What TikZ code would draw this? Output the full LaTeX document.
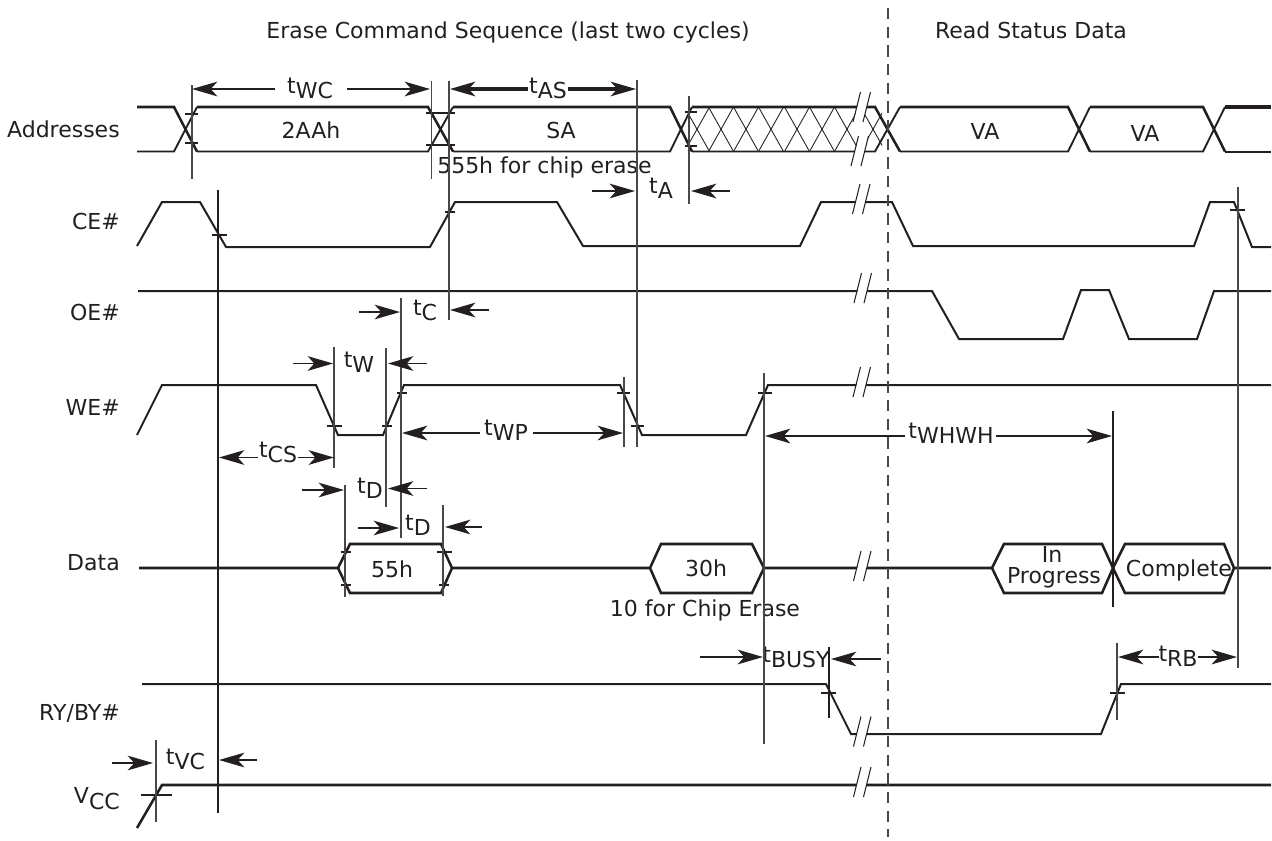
\documentclass[tikz,border=0pt]{standalone}
\usepackage{fontspec}
\setmainfont{DejaVu Sans}
\usepackage{tikz}
\usetikzlibrary{arrows.meta}
\definecolor{ink}{HTML}{231F20}
\definecolor{rule}{HTML}{4A4748}
\newcommand{\tsub}[1]{t\raisebox{-3.9pt}{#1}}
\tikzset{
    sig/.style={draw=ink,line width=1.5pt,line join=miter},
    sigtop/.style={draw=ink,line width=1.9pt,line join=miter},
    sigbot/.style={draw=ink,line width=1.4pt,line join=miter},
    guide/.style={draw=rule,line width=0.8pt},
    guideb/.style={draw=ink,line width=1.2pt},
    tick/.style={draw=ink,line width=0.8pt},
    hatch/.style={draw=ink,line width=0.65pt},
    dim/.style={draw=ink,line width=1pt,-{Stealth[length=19pt,width=11pt,inset=5pt]}},
    txt/.style={inner sep=0pt,anchor=base,text=ink,font=\fontsize{16.5}{18}\selectfont},
    txtr/.style={txt,anchor=base east},
}
\begin{document}
\begin{tikzpicture}[x=0.75pt,y=-0.75pt]
   \useasboundingbox (0,0) rectangle (1272,840);

   % signal names
   \node[txtr] (addr)  at (120,137) {Addresses};
   \node[txtr] (ce)    at (120,229) {CE\#};
   \node[txtr] (oe)    at (120,320) {OE\#};
   \node[txtr] (we)    at (120,415) {WE\#};
   \node[txtr] (data)  at (120,570) {Data};
   \node[txtr] (rybsy) at (120,720) {RY/BY\#};
   \node[txtr] (vcc)   at (120,803) {V\raisebox{-5pt}{CC}};

   \node[txt] (erase)  at (508,38)  {Erase Command Sequence (last two cycles)};
   \node[txt] (status) at (1031,38) {Read Status Data};

   % values
   \node[txt] (v2aa)   at (311,138)  {2AAh};
   \node[txt] (vsa)    at (561,138)  {SA};
   \node[txt] (vva)    at (985,139)  {VA};
   \node[txt] (vvb)    at (1145,141) {VA};
   \node[txt,anchor=base west] (n555) at (437,173) {555h for chip erase};
   \node[txt] (v55)    at (392,577)  {55h};
   \node[txt] (v30)    at (706,576)  {30h};
   \node[txt] (n10)    at (705,616)  {10 for Chip Erase};
   \node[txt] (vin)    at (1052,562) {In};
   \node[txt] (vprog)  at (1054,583) {Progress};
   \node[txt] (vcompl) at (1179,576) {Complete};

   % timing names
   \node[txt] (twc)   at (310,93)   {\tsub{WC}};
   \node[txt] (tas)   at (548,93)   {\tsub{AS}};
   \node[txt] (ta)    at (661,193)  {\tsub{A}};
   \node[txt] (tc)    at (425,315)  {\tsub{C}};
   \node[txt] (tw)    at (359,367)  {\tsub{W}};
   \node[txt] (twp)   at (506,435)  {\tsub{WP}};
   \node[txt] (tcs)   at (278,457)  {\tsub{CS}};
   \node[txt] (tda)   at (370,493)  {\tsub{D}};
   \node[txt] (tdb)   at (418,530)  {\tsub{D}};
   \node[txt] (twhwh) at (951,438)  {\tsub{WHWH}};
   \node[txt] (tbusy) at (796,662)  {\tsub{BUSY}};
   \node[txt] (trb)   at (1178,661) {\tsub{RB}};
   \node[txt] (tvc)   at (185.5,764) {\tsub{VC}};

   % Addresses
   \foreach \xa/\xb/\xc in {137/174/197,197/428/453,453/670/692,692/875/900,900/1068/1090,1090/1203/1225}{
     \draw[sigtop] (\xa,107) -- (\xb,107) -- (\xc,151.5);
     \draw[sigbot] (\xa,151.5) -- (\xb,151.5) -- (\xc,107);
   }
   \fill[ink] (1225,105.3) rectangle (1271,108.7);
   \fill[ink] (1225,150.5) rectangle (1271,152.5);
   \begin{scope}
     \clip (688,107) rectangle (882,151.5);
     \foreach \cx in {697,721,746,771,797,822,847,873}{
       \draw[hatch] (\cx-12.5,107) -- (\cx+12.5,151.5);
       \draw[hatch] (\cx+12.5,107) -- (\cx-12.5,151.5);
     }
   \end{scope}

   % CE#, OE#, WE#
   \draw[sig] (137,246) -- (162,202) -- (200,202) -- (226,247) -- (430,247) -- (455,202)
     -- (557,202) -- (583,246) -- (800,246) -- (821,202) -- (892,202) -- (913,246)
     -- (1194,246) -- (1210,202) -- (1234,202) -- (1252,247) -- (1271,247);
   \draw[sig] (138,291) -- (932,291) -- (959,339) -- (1063,339) -- (1081,290) -- (1109,290)
     -- (1129,339) -- (1197,339) -- (1214,291) -- (1271,291);
   \draw[sig] (137,435) -- (162,385) -- (316,385) -- (338,435) -- (383,435) -- (404,385)
     -- (620,385) -- (642,435) -- (746,435) -- (768,385) -- (1271,385);

   % Data
   \draw[sigtop] (139,568) -- (338,568) -- (350,544) -- (441,544) -- (452,568) -- (441,593)
     -- (350,593) -- (338,568);
   \draw[sigtop] (452,568) -- (650,568) -- (661,544) -- (752,544) -- (764,568) -- (752,593)
     -- (661,593) -- (650,568);
   \draw[sigtop] (764,568) -- (992,568) -- (1004,544) -- (1102,544) -- (1113,568) -- (1102,593)
     -- (1004,593) -- (992,568);
   \draw[sigtop] (1234,568) -- (1224,593) -- (1125,593) -- (1113,568) -- (1125,544)
     -- (1224,544) -- (1234,568) -- (1271,568);

   % RY/BY#, Vcc
   \draw[sig] (142,684) -- (826,684) -- (851,734) -- (1101,734) -- (1121,684) -- (1271,684);
   \draw[sigtop] (137,828) -- (162,785) -- (1271,785);

   % breaks
   \foreach \bx/\by in {862/107,860/151,861.5/199,863/288,862/382,862.5/566,862.5/731.5,862.5/782}{
     \fill[white] (\bx-8.5,\by+15) -- (\bx-1,\by-15) -- (\bx+8,\by-15) -- (\bx+1.5,\by+15) -- cycle;
     \draw[tick] (\bx-9,\by+15) -- (\bx-1.5,\by-15);
     \draw[tick] (\bx+1,\by+15) -- (\bx+8.5,\by-15);
   }

   % ticks on the edges
   \foreach \xa/\xb/\ty in {185/198/114,185/198/143,426/455/113,426/455/145,685/697/112,685/697/146,
     212/227/235,445/455/212,1230/1245/210,327/342/426,382/392/426,397/407/393,617/630/393,
     631/644/426,758/772/393,341/351/552,341/351/585,437/452/552,439/449/585,821/836/693,
     1110/1125/693,141/172/795}{
     \draw[tick] (\xa,\ty) -- (\xb,\ty);
   }

   % guides
   \foreach \gx/\ya/\yb in {192/85/179,431.5/81/179,449/81/320,637/80/447,689/96/204,334/347/468,
     386/348/507,401/298/538,345/485/597,443/505/596,624/377/447,764/373/744,1238/187/668,
     1117/643/720,156/740/822}{
     \draw[guide] (\gx,\ya) -- (\gx,\yb);
   }
   \foreach \gx/\ya/\yb in {218/190/813,1113/411/607,829/647/718}{
     \draw[guideb] (\gx,\ya) -- (\gx,\yb);
   }
   \draw[guide,dash pattern=on 8.5pt off 5.5pt] (888,8) -- (888,837);

   % dimension arrows: name/tail x/tail y/tip x/tip y
   \foreach \n/\xa/\ya/\xb/\yb in {wcl/275/89/192/89, wcr/347/89/430/89,
       asl/528/89/450/89, asr/568/89/636/89,
       twl/293/363.5/333/363.5, twr/427/363.5/388/363.5,
       tcl/359/312/400/312, tcr/489/310/450/310,
       tal/592/191/635/191, tar/730/191/691/191,
       wpl/480/433/402/433, wpr/533/433/623/433,
       csl/258/457.5/219/457.5, csr/298/457.5/334/457.5,
       dal/302/490/344/490, dar/427/488.5/388/488.5,
       dbl/358/528/399/528, dbr/482/527/445/527,
       whl/905/436/765/436, whr/996/436/1112/436,
       bul/700/657/763/657, bur/881/659/831/659,
       rbl/1159/657/1118/657, rbr/1198/657/1237/657,
       vcl/112/763/153/763, vcr/257/760/219/760}{
     \coordinate (\n a) at (\xa,\ya);
     \coordinate (\n b) at (\xb,\yb);
     \draw[dim] (\n a) -- (\n b);
   }
   % the two heavier shafts of tAS
   \fill[ink] (465,87.3) rectangle (528,90.7);
   \fill[ink] (568,87.3) rectangle (622,90.7);
\end{tikzpicture}
\end{document}
